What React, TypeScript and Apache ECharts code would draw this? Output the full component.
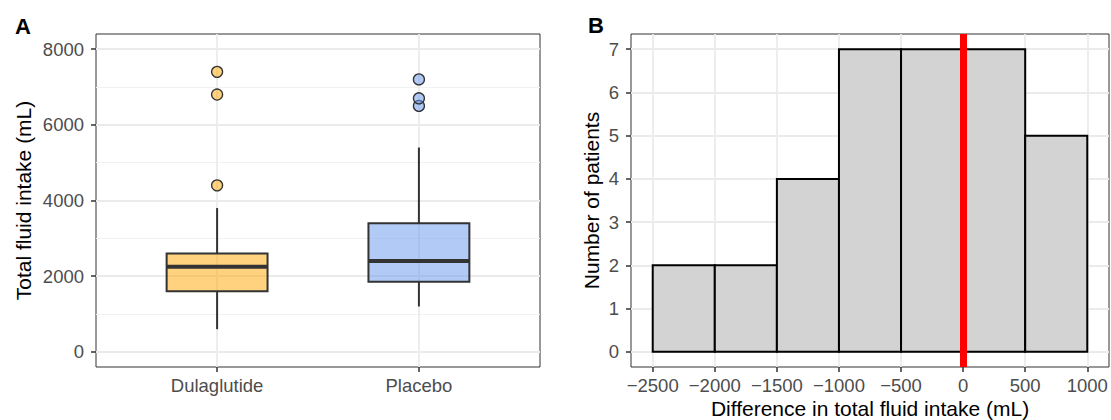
import React, { useEffect, useRef } from "react";
import * as echarts from "echarts";

// ---------- Panel A data ----------
const groups = ["Dulaglutide", "Placebo"];
const groupPos = [1, 2];
const boxMin = [600, 1200];
const boxQ1 = [1600, 1850];
const boxMedian = [2250, 2400];
const boxQ3 = [2600, 3400];
const boxMax = [3800, 5400];
const outliersDula = [4400, 6800, 7400];
const outliersPlacebo = [6500, 6700, 7200];
const groupColors = ["rgba(255,165,0,0.5)", "rgba(100,149,237,0.5)"];
const intakeTicks = [0, 2000, 4000, 6000, 8000];
const intakeMinor = [1000, 3000, 5000, 7000];

// ---------- Panel B data ----------
const binEdges = [-2500, -2000, -1500, -1000, -500, 0, 500, 1000];
const binCounts = [2, 2, 4, 7, 7, 7, 5];
const diffTicks = [-2500, -2000, -1500, -1000, -500, 0, 500, 1000];
const countTicks = [0, 1, 2, 3, 4, 5, 6, 7];
const refLine = 0;

const FONT = "Liberation Sans, Arial, Helvetica, sans-serif";
const TICK_COLOR = "#333333";
const LABEL_COLOR = "#4D4D4D";
const GRID_COLOR = "#EBEBEB";

function axisCommon(customValues: number[], formatter: (v: number) => string, margin: number) {
  return {
    axisLine: { show: false, onZero: false },
    splitLine: { show: false },
    minorSplitLine: { show: false },
    nameMoveOverlap: false,
    axisTick: {
      show: true,
      length: 5,
      inside: false,
      customValues,
      lineStyle: { color: TICK_COLOR, width: 1.5 },
    },
    axisLabel: {
      show: true,
      customValues,
      formatter,
      color: LABEL_COLOR,
      fontSize: 18.5,
      fontFamily: FONT,
      margin,
    },
  };
}

function gridLine(val: any, width: number, color = GRID_COLOR) {
  return { ...val, lineStyle: { width, color, type: "solid" } };
}

export default function App() {
  const ref = useRef<HTMLDivElement>(null);

  useEffect(() => {
    if (!ref.current) return;
    const chart = echarts.init(ref.current, null, { renderer: "svg" });

    const minusFmt = (v: number) => (v < 0 ? "\u2212" + Math.abs(v) : String(v));

    const option: any = {
      animation: false,
      backgroundColor: "#ffffff",
      textStyle: { fontFamily: FONT },
      grid: [
        {
          left: 96,
          top: 34,
          width: 444,
          height: 333,
          show: true,
          borderColor: "#333333",
          borderWidth: 1,
          backgroundColor: "transparent",
          containLabel: false,
          outerBoundsMode: "none",
          z: 0,
        },
        {
          left: 631,
          top: 34,
          width: 478,
          height: 333,
          show: true,
          borderColor: "#333333",
          borderWidth: 1,
          backgroundColor: "transparent",
          containLabel: false,
          outerBoundsMode: "none",
          z: 0,
        },
      ],
      xAxis: [
        {
          type: "value",
          gridIndex: 0,
          min: 0.4,
          max: 2.6,
          ...axisCommon(groupPos, (v: number) => groups[groupPos.indexOf(v)] ?? "", 9),
        },
        {
          type: "value",
          gridIndex: 1,
          min: -2675,
          max: 1175,
          name: "Difference in total fluid intake (mL)",
          nameLocation: "middle",
          nameGap: 31,
          nameTextStyle: { color: "#000000", fontSize: 21, fontFamily: FONT, lineHeight: 21, verticalAlign: "top" },
          ...axisCommon(diffTicks, minusFmt, 9),
        },
      ],
      yAxis: [
        {
          type: "value",
          gridIndex: 0,
          min: -400,
          max: 8400,
          name: "Total fluid intake (mL)",
          nameLocation: "middle",
          nameGap: 62,
          nameRotate: 90,
          nameTextStyle: { color: "#000000", fontSize: 21, fontFamily: FONT },
          ...axisCommon(intakeTicks, (v: number) => String(v), 12),
        },
        {
          type: "value",
          gridIndex: 1,
          min: -0.35,
          max: 7.35,
          name: "Number of patients",
          nameLocation: "middle",
          nameGap: 29,
          nameRotate: 90,
          nameTextStyle: { color: "#000000", fontSize: 21, fontFamily: FONT },
          ...axisCommon(countTicks, (v: number) => String(v), 12),
        },
      ],
      series: [
        // Panel A background grid
        {
          type: "line",
          xAxisIndex: 0,
          yAxisIndex: 0,
          data: [],
          z: 1,
          silent: true,
          markLine: {
            z: 1,
            silent: true,
            symbol: ["none", "none"],
            label: { show: false },
            emphasis: { disabled: true },
            data: [
              ...intakeMinor.map((v) => gridLine({ yAxis: v }, 1, "#F2F2F2")),
              ...intakeTicks.map((v) => gridLine({ yAxis: v }, 1.8)),
              ...groupPos.map((v) => gridLine({ xAxis: v }, 1.8)),
            ],
          },
        },
        // Panel A boxes
        {
          type: "custom",
          xAxisIndex: 0,
          yAxisIndex: 0,
          z: 3,
          encode: { x: 0, y: [1, 2, 3, 4, 5] },
          data: groups.map((g, i) => [groupPos[i], boxMin[i], boxQ1[i], boxMedian[i], boxQ3[i], boxMax[i]]),
          renderItem: (params: any, api: any) => {
            const x = api.value(0);
            const pMin = api.coord([x, api.value(1)]);
            const pQ1 = api.coord([x, api.value(2)]);
            const pMed = api.coord([x, api.value(3)]);
            const pQ3 = api.coord([x, api.value(4)]);
            const pMax = api.coord([x, api.value(5)]);
            const left = api.coord([x - 0.25, 0])[0];
            const right = api.coord([x + 0.25, 0])[0];
            const stroke = "#333333";
            return {
              type: "group",
              children: [
                { type: "line", shape: { x1: pMin[0], y1: pMin[1], x2: pQ1[0], y2: pQ1[1] }, style: { stroke, lineWidth: 2 } },
                { type: "line", shape: { x1: pQ3[0], y1: pQ3[1], x2: pMax[0], y2: pMax[1] }, style: { stroke, lineWidth: 2 } },
                {
                  type: "rect",
                  shape: { x: left, y: pQ3[1], width: right - left, height: pQ1[1] - pQ3[1] },
                  style: { fill: groupColors[params.dataIndex], stroke, lineWidth: 2 },
                },
                { type: "line", shape: { x1: left, y1: pMed[1], x2: right, y2: pMed[1] }, style: { stroke, lineWidth: 4 } },
              ],
            };
          },
        },
        // Panel A outliers
        {
          type: "scatter",
          xAxisIndex: 0,
          yAxisIndex: 0,
          z: 4,
          symbol: "circle",
          symbolSize: 11,
          data: [
            ...outliersDula.map((v) => ({ value: [groupPos[0], v], itemStyle: { color: groupColors[0] } })),
            ...outliersPlacebo.map((v) => ({ value: [groupPos[1], v], itemStyle: { color: groupColors[1] } })),
          ],
          itemStyle: { borderColor: "#333333", borderWidth: 1.3, opacity: 1 },
        },
        // Panel B background grid
        {
          type: "line",
          xAxisIndex: 1,
          yAxisIndex: 1,
          data: [],
          z: 1,
          silent: true,
          markLine: {
            z: 1,
            silent: true,
            symbol: ["none", "none"],
            label: { show: false },
            emphasis: { disabled: true },
            data: [
              ...countTicks.map((v) => gridLine({ yAxis: v }, 1.8)),
              ...diffTicks.map((v) => gridLine({ xAxis: v }, 1.8)),
            ],
          },
        },
        // Panel B histogram
        {
          type: "custom",
          xAxisIndex: 1,
          yAxisIndex: 1,
          z: 3,
          encode: { x: [0, 1], y: 2 },
          data: binCounts.map((c, i) => [binEdges[i], binEdges[i + 1], c]),
          renderItem: (params: any, api: any) => {
            const p0 = api.coord([api.value(0), 0]);
            const p1 = api.coord([api.value(1), api.value(2)]);
            return {
              type: "rect",
              shape: { x: p0[0], y: p1[1], width: p1[0] - p0[0], height: p0[1] - p1[1] },
              style: { fill: "#D3D3D3", stroke: "#000000", lineWidth: 2 },
            };
          },
        },
        // Panel B reference line
        {
          type: "line",
          xAxisIndex: 1,
          yAxisIndex: 1,
          data: [],
          z: 10,
          silent: true,
          markLine: {
            z: 10,
            silent: true,
            symbol: ["none", "none"],
            label: { show: false },
            emphasis: { disabled: true },
            data: [{ xAxis: refLine, lineStyle: { color: "#FF0000", width: 7, type: "solid" } }],
          },
        },
      ],
      graphic: [
        {
          type: "text",
          left: 15,
          top: 15,
          style: { text: "A", fontSize: 22, fontWeight: "bold", fontFamily: FONT, fill: "#000000" },
        },
        {
          type: "text",
          left: 588,
          top: 14,
          style: { text: "B", fontSize: 22, fontWeight: "bold", fontFamily: FONT, fill: "#000000" },
        },
      ],
    };

    chart.setOption(option);
    return () => chart.dispose();
  }, []);

  return (
    <div
      ref={ref}
      style={{ position: "absolute", left: 0, top: 0, width: 1111, height: 420 }}
    />
  );
}
